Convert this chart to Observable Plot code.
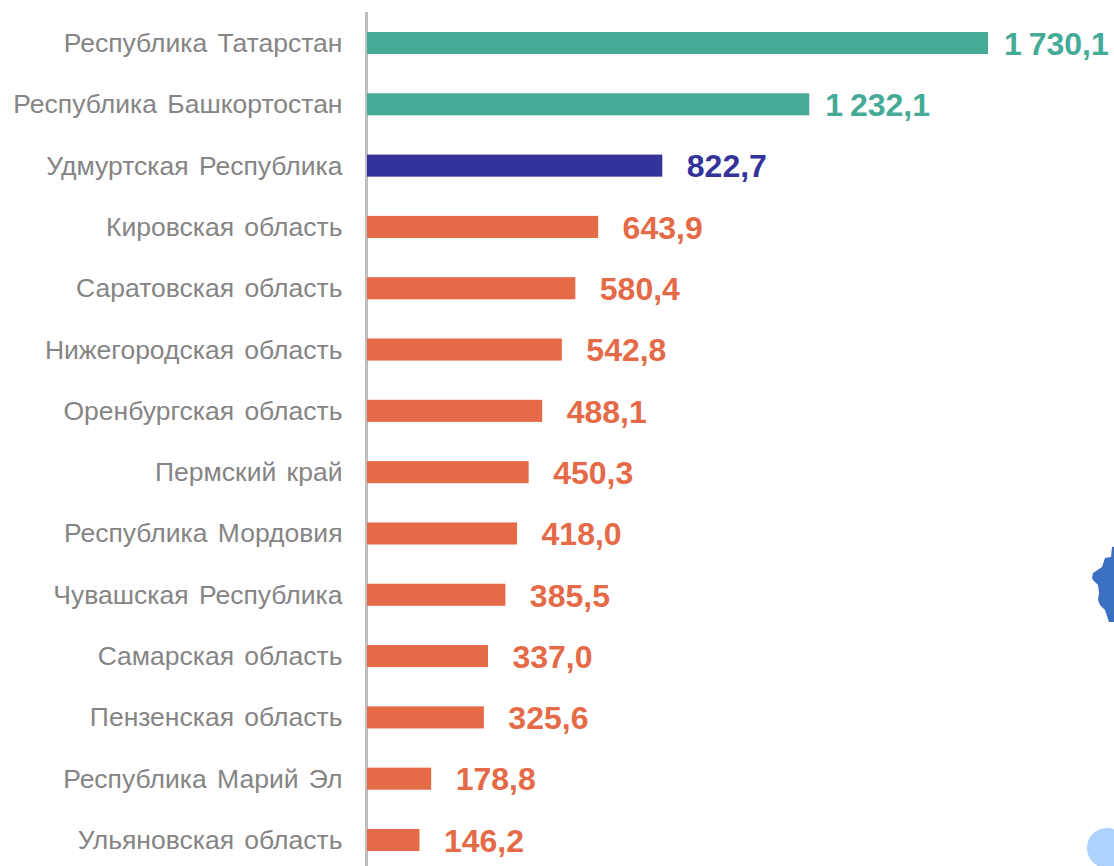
<!DOCTYPE html>
<html lang="ru">
<head>
<meta charset="utf-8">
<script src="https://cdn.jsdelivr.net/npm/d3@7"></script>
<script src="https://cdn.jsdelivr.net/npm/@observablehq/plot@0.6"></script>
<style>
html,body{margin:0;padding:0;background:#fff;overflow:hidden}
#page{position:relative;width:1114px;height:866px;overflow:hidden}
#page svg{display:block;position:absolute;left:0;top:0}
#page svg text{word-spacing:-2px}
#page svg g[aria-label="y-axis tick label"] text{word-spacing:3px}
#map{position:absolute;left:1092px;top:545px;width:40px;height:80px;background:#3a6fc1;
clip-path:polygon(20px 2px,19px 12px,13px 13px,10px 22px,1px 28px,0 33px,1px 35px,6px 40px,7px 48px,6px 55px,8px 60px,13px 65px,17px 77px,40px 77px,40px 0)}
#dot{position:absolute;left:1087px;top:828px;width:40px;height:40px;border-radius:50%;background:#add2fb}
</style>
</head>
<body>
<div id="page"><div id="map"></div><div id="dot"></div></div>
<script>
const regions = ["Республика Татарстан","Республика Башкортостан","Удмуртская Республика","Кировская область","Саратовская область","Нижегородская область","Оренбургская область","Пермский край","Республика Мордовия","Чувашская Республика","Самарская область","Пензенская область","Республика Марий Эл","Ульяновская область"];
const values = [1730.1,1232.1,822.7,643.9,580.4,542.8,488.1,450.3,418.0,385.5,337.0,325.6,178.8,146.2];
const groups = ["top","top","self","rest","rest","rest","rest","rest","rest","rest","rest","rest","rest","rest"];
const rows = regions.map((region,i)=>({region,value:values[i],group:groups[i]}));
const groupNames = ["top","self","rest"];
const groupColors = ["#45ab96","#333399","#e56a47"];
const fmt = d3.formatLocale({decimal:",",thousands:" ",grouping:[3]}).format(",.1f");
const valueFont = {fontSize:32,fontWeight:"bold",textAnchor:"start",fontFamily:"Liberation Sans, Arial, sans-serif"};
const labels = (dx,test)=>Plot.text(rows.filter(test),{x:"value",y:"region",text:d=>fmt(d.value),fill:"group",dx,dy:1,...valueFont});
const chart = Plot.plot({
  width:1114,height:866,
  marginLeft:367,marginRight:126,marginTop:12,marginBottom:0,
  style:{background:"transparent",fontFamily:"Liberation Sans, Arial, sans-serif"},
  x:{domain:[0,1730.1],range:[367,988],axis:null},
  y:{domain:regions,range:[12.35,870.65],paddingInner:0.64,paddingOuter:0.32,align:0.5,round:false,label:null},
  color:{domain:groupNames,range:groupColors},
  marks:[
    Plot.ruleX([0],{stroke:"#bfbfbf",strokeWidth:3,dx:-1}),
    Plot.barX(rows,{x:"value",y:"region",fill:"group"}),
    labels(15.5,d=>d.group==="top"),
    labels(24,d=>d.group!=="top"),
    Plot.axisY({anchor:"left",tickSize:0,tickPadding:25,fontSize:26.5,color:"#858585",label:null,fontFamily:"Liberation Sans, Arial, sans-serif"})
  ]
});
document.getElementById("page").prepend(chart);
</script>
</body>
</html>
